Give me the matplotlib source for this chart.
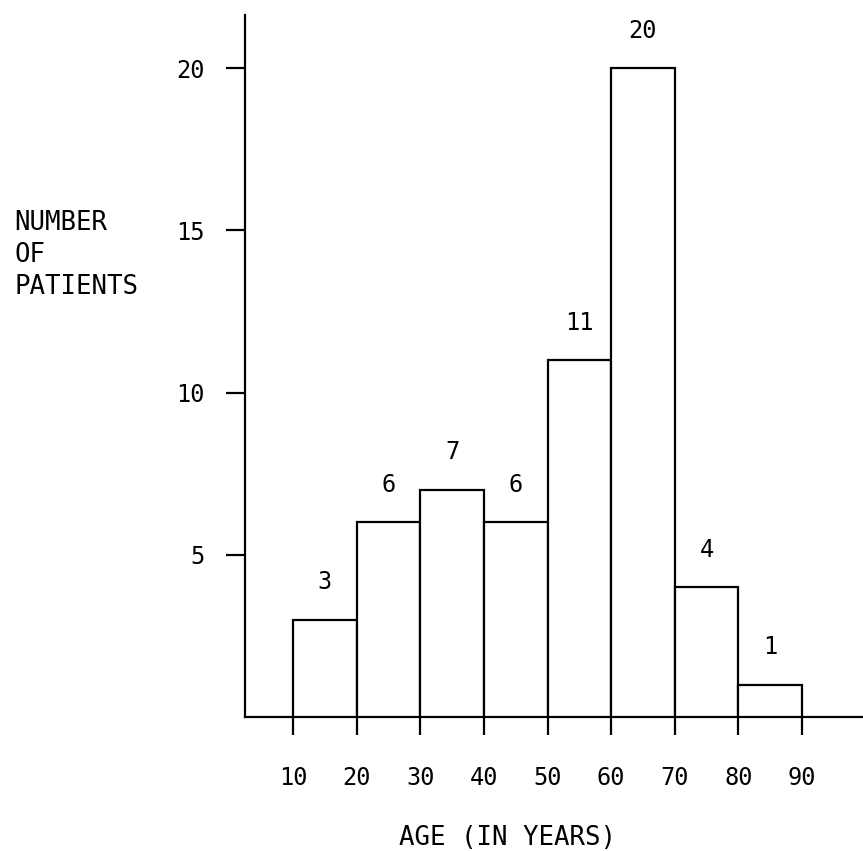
import matplotlib.pyplot as plt

# age groups (left edge of each 10-year bin) and counts
bin_left = [10, 20, 30, 40, 50, 60, 70, 80]
counts = [3, 6, 7, 6, 11, 20, 4, 1]
x_ticks = [10, 20, 30, 40, 50, 60, 70, 80, 90]
y_ticks = [5, 10, 15, 20]

plt.rcParams['font.family'] = ['DejaVu Sans Mono']
plt.rcParams['font.size'] = 17

fig = plt.figure(figsize=(8.63, 8.51), dpi=100)
ax = fig.add_axes([0.284, 0.1575, 0.716, 0.8245])

ax.bar(bin_left, counts, width=10, align='edge', facecolor='white',
       edgecolor='black', linewidth=1.6, zorder=3)

# counts above bars
for l, c in zip(bin_left, counts):
    ax.annotate(str(c), (l + 5, c), xytext=(0, 27), textcoords='offset points',
                ha='center', va='center')

ax.set_xlim(2.45, 99.6)
ax.set_ylim(0, 21.63)

for s in ['top', 'right']:
    ax.spines[s].set_visible(False)
ax.spines['left'].set_linewidth(1.6)
ax.spines['bottom'].set_linewidth(1.6)

ax.set_xticks(x_ticks)
ax.set_xticklabels([str(v) for v in x_ticks])
ax.set_yticks(y_ticks)
ax.set_yticklabels([str(v) for v in y_ticks])
ax.tick_params(axis='x', direction='out', length=13, width=1.6, pad=22)
ax.tick_params(axis='y', direction='out', length=14, width=1.6, pad=15)

fig.text(0.017, 0.753, "NUMBER\nOF\nPATIENTS", ha='left', va='top',
         fontsize=18.5, linespacing=1.3)
fig.text(0.5875, 0.015, "AGE (IN YEARS)", ha='center', va='center',
         fontsize=18.5)

fig.savefig('out.png', dpi=100)
